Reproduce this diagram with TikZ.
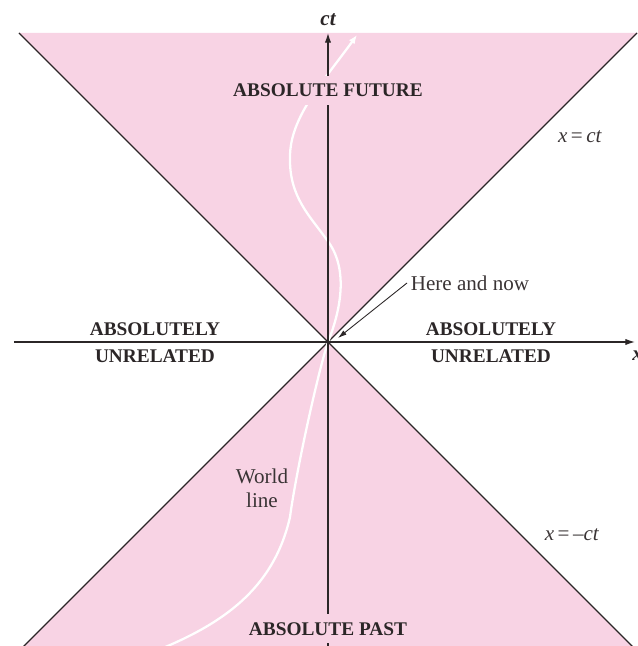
\documentclass[tikz,border=0pt]{standalone}
\usepackage{fontspec}
\setmainfont{Liberation Serif}
\usepackage{tikz}
\usetikzlibrary{arrows.meta,positioning,calc}
\definecolor{lcpink}{HTML}{F8D3E4}
\definecolor{lcink}{HTML}{2B2627}
\definecolor{lcnote}{HTML}{3A3435}

\begin{document}
\begin{tikzpicture}[
    x=0.02cm,
    y=0.02cm,
    font=\fontsize{12}{13.6}\selectfont,
    region/.style={font=\fontsize{11}{13}\selectfont\bfseries, text=lcink, anchor=base, inner sep=0pt},
    gapfill/.style={fill=lcpink, inner xsep=3pt, inner ysep=4.5pt},
    note/.style={text=lcnote, align=center, inner sep=1pt},
    axislbl/.style={font=\fontsize{12}{13}\selectfont\bfseries\itshape, text=lcink, anchor=base, inner sep=0pt},
    coneline/.style={draw=lcink, line width=0.7pt},
    axisline/.style={draw=lcink, line width=0.7pt, -{Latex[length=5.5pt,width=3.6pt]}},
    pointer/.style={draw=lcink, line width=0.5pt, -{Latex[length=5pt,width=3pt]}}
  ]
    \useasboundingbox (-328,-304) rectangle (309,342);
    \coordinate (origin) at (0,0);
    \coordinate (now) at (10,4);

    % light cone
    \fill[lcpink] (-309,309) -- (origin) -- (309,309) -- cycle;
    \fill[lcpink] (-330,-330) -- (origin) -- (330,-330) -- cycle;
    \draw[coneline] (-309,309) -- (origin) -- (309,309);
    \draw[coneline] (-330,-330) -- (origin) -- (330,-330);

    % world line
    \draw[white, line width=1.3pt, -{Latex[length=5pt,width=4pt]}]
      (-180,-312) .. controls (-110,-285) and (-55,-250) .. (-38,-175)
      .. controls (-32,-130) and (-10,-30) .. (origin)
      .. controls (14,35) and (20,75) .. (-1,102)
      .. controls (-18,126) and (-39,145) .. (-38,185)
      .. controls (-38,225) and (-5,260) .. (29,307);

    % axes
    \draw[axisline] (-314,0) -- (307,0);
    \draw[axisline] (0,-320) -- (0,309);
    \node[axislbl] (ctlbl) at (0,316) {ct};
    \node[axislbl, anchor=base west] (xlbl) at (304,-18) {x};

    % regions
    \node[region, gapfill] (future) at (0,245) {ABSOLUTE FUTURE};
    \node[region, gapfill] (past) at (0,-293) {ABSOLUTE PAST};
    \node[region] (leftup) at (-173,7) {ABSOLUTELY};
    \node[region] (leftdown) at (-173,-20) {UNRELATED};
    \node[region] (rightup) at (163,7) {ABSOLUTELY};
    \node[region] (rightdown) at (163,-20) {UNRELATED};

    % notes
    \node[note] (conep) at (252,205) {\textit{x}\,=\,\textit{ct}};
    \node[note] (conem) at (244,-193) {\textit{x}\,=\,–\textit{ct}};
    \node[note] (wlabel) at (-66,-146) {World\\line};
    \node[note, inner sep=2pt] (here) at (142,59) {Here and now};
    \draw[pointer] (here.west) -- (now);
\end{tikzpicture}
\end{document}
